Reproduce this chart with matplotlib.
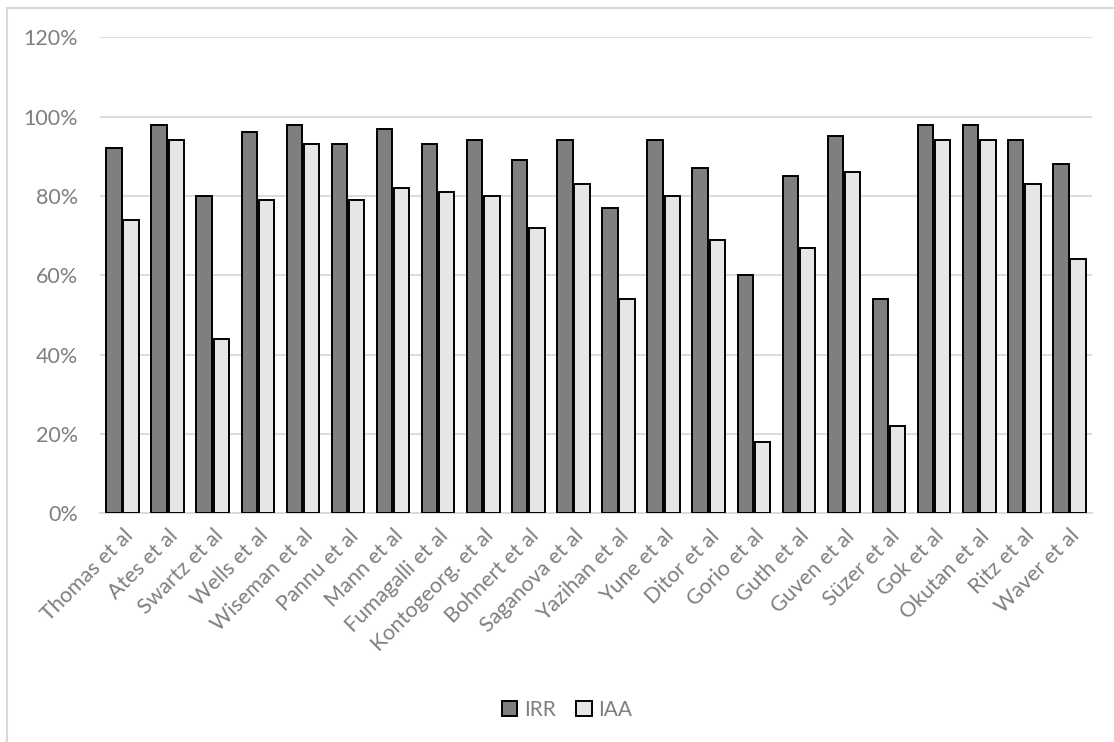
import numpy as np
import matplotlib.pyplot as plt
from matplotlib.patches import Rectangle
from matplotlib.ticker import PercentFormatter

studies = ['Thomas et al', 'Ates et al', 'Swartz et al', 'Wells et al', 'Wiseman et al',
           'Pannu et al', 'Mann et al', 'Fumagalli et al', 'Kontogeorg. et al', 'Bohnert et al',
           'Saganova et al', 'Yazihan et al', 'Yune et al', 'Ditor et al', 'Gorio et al',
           'Guth et al', 'Guven et al', 'Süzer et al', 'Gok et al', 'Okutan et al',
           'Ritz et al', 'Waver et al']
irr = [92, 98, 80, 96, 98, 93, 97, 93, 94, 89, 94, 77, 94, 87, 60, 85, 95, 54, 98, 98, 94, 88]
iaa = [74, 94, 44, 79, 93, 79, 82, 81, 80, 72, 83, 54, 80, 69, 18, 67, 86, 22, 94, 94, 83, 64]

plt.rcParams['font.family'] = ['Lato', 'DejaVu Sans']
text_grey = '#7f7f7f'

fig = plt.figure(figsize=(11.14, 7.42), dpi=100)
ax = fig.add_axes([100 / 1114, 1 - 513.3 / 742, 992 / 1114, 476 / 742])

# chart frame (cropped at right and bottom, as in the source)
fig.patches.append(Rectangle((7 / 1114, -0.05), 1.2, (742 - 8) / 742 + 0.05,
                             transform=fig.transFigure, fill=False,
                             edgecolor='#d9d9d9', linewidth=1.5, zorder=0))

x = np.arange(len(studies))
w = 0.34
ax.bar(x - w / 2 - 0.02, irr, w, color='#7f7f7f', edgecolor='black', linewidth=1.4,
       label='IRR', zorder=3)
ax.bar(x + w / 2 + 0.02, iaa, w, color='#e6e6e6', edgecolor='black', linewidth=1.4,
       label='IAA', zorder=3)

ax.set_xlim(-0.5, len(studies) - 0.5)
ax.set_ylim(0, 120)
ax.set_yticks(np.arange(0, 121, 20))
ax.yaxis.set_major_formatter(PercentFormatter(decimals=0))
ax.grid(axis='y', color='#d9d9d9', linewidth=1.3, zorder=0)

for s in ['top', 'right', 'left']:
    ax.spines[s].set_visible(False)
ax.spines['bottom'].set_color('#d9d9d9')
ax.spines['bottom'].set_linewidth(1.3)

ax.set_xticks(x)
ax.set_xticklabels(studies, rotation=45, ha='right', rotation_mode='anchor',
                   fontsize=15.5, color=text_grey)
ax.tick_params(axis='x', length=0, pad=9)
ax.tick_params(axis='y', length=0, pad=16, labelsize=15.5, labelcolor=text_grey)

leg = fig.legend(loc='center', bbox_to_anchor=(567 / 1114, 1 - 710 / 742), ncol=2,
                 frameon=False, fontsize=15, handlelength=0.75, handleheight=0.75,
                 handletextpad=0.3, columnspacing=1.0)
for t in leg.get_texts():
    t.set_color(text_grey)

fig.savefig('out.png', dpi=100)
